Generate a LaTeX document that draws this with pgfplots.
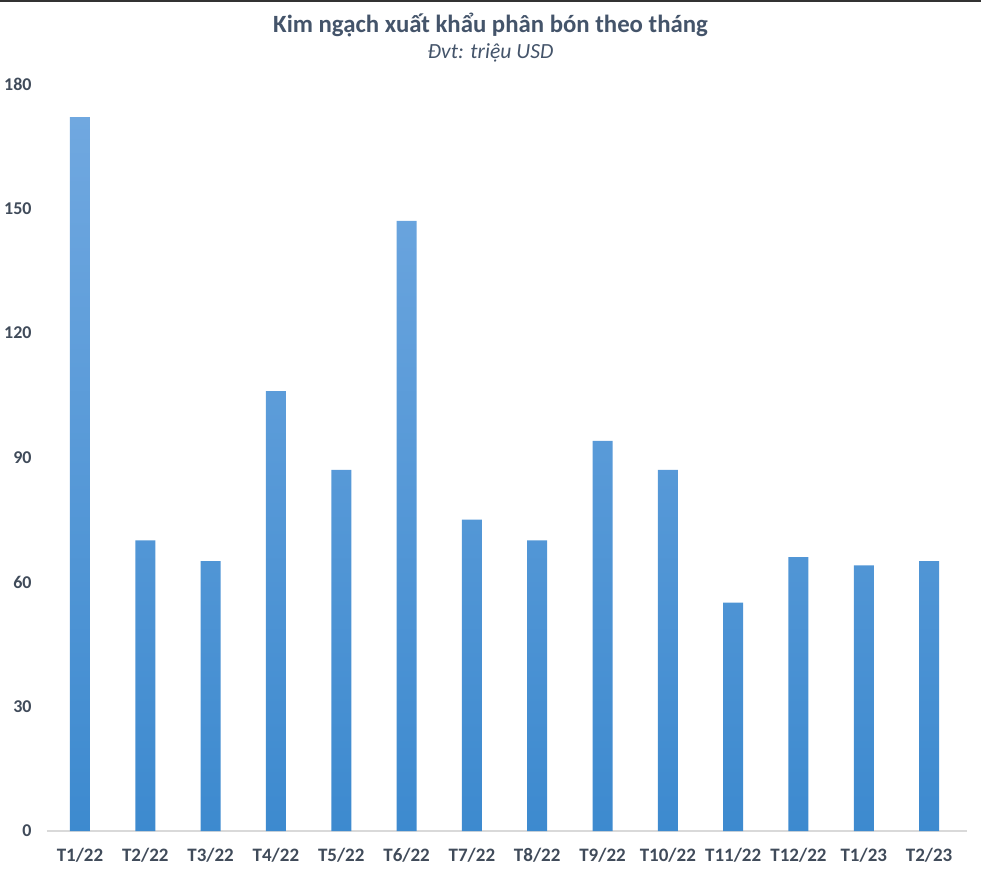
\documentclass[border=0pt]{standalone}
\usepackage{pgfplots}
\pgfplotsset{compat=1.18}
\usepackage{fontspec}
\setmainfont{Carlito}
\definecolor{txt}{HTML}{44546A}
\definecolor{lbl}{HTML}{404B5A}
\definecolor{bartop}{HTML}{70A8E0}
\definecolor{barbot}{HTML}{3D8ACF}
\definecolor{axln}{HTML}{D9D9D9}
\begin{document}
\begin{tikzpicture}
\begin{axis}[
  name=ax,
  scale only axis,
  width=460pt, height=373.5pt,
  xmin=-0.505, xmax=13.58,
  ymin=0, ymax=180,
  ytick={0,30,60,90,120,150,180},
  xtick={0,...,13},
  xticklabels={T1/22,T2/22,T3/22,T4/22,T5/22,T6/22,T7/22,T8/22,T9/22,T10/22,T11/22,T12/22,T1/23,T2/23},
  axis x line*=bottom,
  axis y line*=left,
  x axis line style={axln, line width=0.8pt, -},
  y axis line style={draw=none},
  major tick length=0pt,
  tick style={draw=none},
  yticklabel style={font=\fontsize{9}{10}\selectfont\bfseries, text=lbl, anchor=east, inner sep=0pt, xshift=-7.5pt},
  xticklabel style={font=\fontsize{9.5}{11}\selectfont\bfseries, text=lbl, yshift=-5pt},
  /pgf/number format/assume math mode=true,
  clip=false,
]
\addplot[ybar, bar width=10pt, draw=none, top color=bartop, bottom color=barbot]
  coordinates {(0,172) (1,70) (2,65) (3,106) (4,87) (5,147) (6,75) (7,70) (8,94) (9,87) (10,55) (11,66) (12,64) (13,65)};
\end{axis}
\pgfresetboundingbox
\path[use as bounding box] ([xshift=-23.5pt,yshift=-21.5pt]ax.south west) rectangle ([xshift=7pt,yshift=42pt]ax.north east);
\fill[black!80] ([xshift=-23.5pt,yshift=41pt]ax.north west) rectangle ([xshift=7pt,yshift=42pt]ax.north east);
\node[font=\fontsize{12.4}{14}\selectfont\bfseries, text=txt] at ([xshift=221.75pt,yshift=29.5pt]ax.north west) {Kim ngạch xuất khẩu phân bón theo tháng};
\node[font=\fontsize{10.8}{12}\selectfont\itshape, text=txt] at ([xshift=221.75pt,yshift=15.5pt]ax.north west) {Đvt: triệu USD};
\end{tikzpicture}
\end{document}
